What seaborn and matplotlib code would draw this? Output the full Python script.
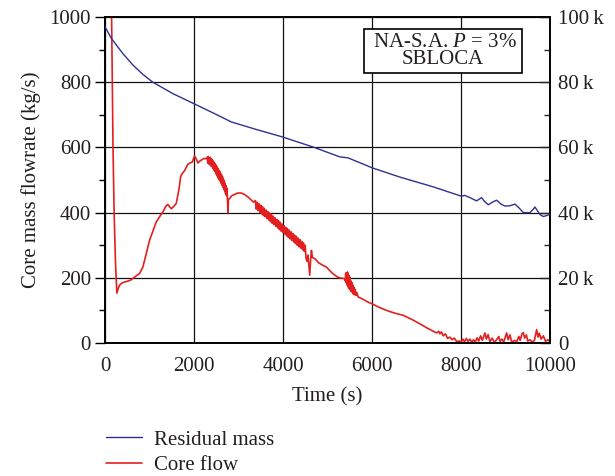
import matplotlib
matplotlib.use("Agg")
import matplotlib.pyplot as plt
from matplotlib.ticker import MultipleLocator, FixedLocator
import seaborn as sns
import pandas as pd

# Core flow (kg/s) versus time (s)
core_time = [100, 150, 180, 205, 235, 266, 300, 326, 380, 439, 520, 589, 680, 776, 851, 920,
             1001, 1080, 1151, 1230, 1301, 1370, 1413, 1450, 1489, 1540, 1601, 1660, 1700, 1736,
             1790, 1830, 1863, 1920, 1961, 2013, 2050, 2088, 2130, 2163, 2220, 2261,
             2300, 2310, 2320, 2330, 2340, 2350, 2360, 2370, 2380, 2390, 2400, 2410, 2420, 2430,
             2440, 2450, 2460, 2470, 2480, 2490, 2500, 2510, 2520, 2530, 2540, 2550, 2560, 2570,
             2580, 2590, 2600, 2610, 2620, 2630, 2640, 2650, 2660, 2670, 2680, 2690, 2700, 2710,
             2720, 2730, 2740, 2750, 2763, 2775, 2801, 2850, 2913, 2980, 3064, 3140, 3213, 3290,
             3340,
             3380, 3400, 3420, 3440, 3460, 3480, 3500, 3520, 3540, 3560, 3580, 3600, 3620, 3640,
             3660, 3680, 3700, 3720, 3740, 3760, 3780, 3800, 3820, 3840, 3860, 3880, 3900, 3920,
             3940, 3960, 3980, 4000, 4020, 4040, 4060, 4080, 4100, 4120, 4140, 4160, 4180, 4200,
             4220, 4240, 4260, 4280, 4300, 4320, 4340, 4360, 4380, 4400, 4420, 4440, 4460, 4480,
             4500, 4515, 4540, 4560, 4580, 4601, 4620, 4639, 4660, 4713, 4800, 4900, 4976, 5100,
             5238, 5388, 5400, 5410, 5420, 5430, 5440, 5450, 5460, 5470, 5480, 5490, 5500, 5510,
             5520, 5530, 5540, 5550, 5560, 5570, 5580, 5590, 5600, 5620, 5640, 5660, 5688, 5740,
             5800, 5900, 5988, 6150, 6326, 6500, 6700, 6900, 7075, 7250, 7450, 7500, 7525, 7560,
             7600, 7650, 7700, 7750, 7800, 7850, 7900, 7975, 8000, 8040, 8080, 8120, 8160, 8200,
             8240, 8280, 8320, 8360, 8400, 8440, 8480, 8538, 8570, 8610, 8650, 8700, 8750, 8800,
             8850, 8880, 8920, 8960, 9000, 9026, 9060, 9100, 9140, 9200, 9250, 9300, 9330, 9370,
             9400, 9430, 9470, 9500, 9550, 9600, 9650, 9700, 9730, 9760, 9800, 9850, 9900, 9950,
             10000]
core_flow = [1300, 980, 600, 400, 250, 153, 168, 177, 184, 187, 190, 194, 204, 213, 233, 270,
             315, 345, 371, 388, 402, 420, 425, 418, 412, 418, 428, 470, 510, 520,
             529, 540, 548, 553, 555, 574, 565, 552, 558, 561, 566, 565,
             570, 552, 572, 550, 568, 548, 570, 545, 566, 542, 564, 540, 560, 535,
             556, 530, 552, 526, 548, 520, 545, 515, 540, 510, 535, 505, 530, 500,
             526, 496, 520, 490, 515, 484, 510, 478, 503, 472, 497, 465, 490, 458,
             482, 452, 475, 448, 399, 440, 443, 452, 456, 460, 460, 455, 448, 438,
             432,
             437, 411, 432, 406, 427, 401, 423, 396, 418, 391, 413, 387, 408, 382,
             403, 377, 399, 372, 394, 367, 389, 363, 384, 358, 379, 353, 375, 348,
             370, 343, 365, 339, 360, 334, 355, 329, 351, 324, 346, 319, 341, 315,
             336, 310, 331, 305, 327, 300, 322, 295, 317, 291, 312, 286, 307, 281,
             300, 262, 250, 270, 240, 208, 255, 284, 262, 259, 246, 238, 233, 215,
             201, 197, 190, 215, 185, 212, 178, 218, 172, 210, 168, 205, 165, 200,
             160, 190, 158, 185, 155, 178, 150, 172, 148, 165, 146, 155, 141, 138,
             134, 126, 121, 110, 100, 92, 85, 72, 59, 45, 31, 36, 28, 34,
             22, 28, 14, 18, 10, 15, 5, 6, 2, 12, 4, 14, 5, 12,
             3, 10, 2, 16, 6, 22, 8, 31, 12, 26, 4, 15, 2, 10,
             20, 5, 12, 3, 20, 31, 10, 25, 2, 8, 4, 20, 8, 28,
             32, 15, 25, 6, 10, 3, 8, 41, 18, 30, 12, 22, 5, 10,
             4]

# Residual mass (kg) versus time (s)
mass_time = [0, 140, 400, 625, 850, 1075, 1525, 2000, 2425, 2840, 3400, 3990, 4680, 5275,
             5460, 6010, 6625, 7375, 8015, 8080, 8200, 8350, 8463, 8530, 8613, 8720, 8800,
             8900, 8988, 9100, 9213, 9300, 9400, 9550, 9620, 9663, 9775, 9850, 9950, 10000]
mass_value = [97000, 93500, 88800, 85300, 82400, 80000, 76500, 73400, 70600, 67800, 65500,
              63200, 60100, 57100, 56800, 53700, 50900, 47900, 45000, 45300, 44600, 43600,
              44600, 43400, 42400, 43300, 43800, 42600, 42000, 42100, 42600, 41500, 40000,
              40000, 41000, 41700, 39400, 38800, 39200, 39500]

x_ticks = [0, 2000, 4000, 6000, 8000, 10000]
left_ticks = [0, 200, 400, 600, 800, 1000]
right_ticks = [0, 20000, 40000, 60000, 80000, 100000]
right_labels = ["0", "20\u2009k", "40\u2009k", "60\u2009k", "80\u2009k", "100\u2009k"]

sns.set_style("white")
plt.rcParams["font.family"] = ["Liberation Serif", "DejaVu Serif"]
plt.rcParams["mathtext.fontset"] = "custom"
plt.rcParams["mathtext.it"] = "Liberation Serif:italic"
plt.rcParams["mathtext.rm"] = "Liberation Serif"
FS = 15
TXT = "#231f20"

fig = plt.figure(figsize=(6.15, 4.76), dpi=100)
ax = fig.add_axes([105 / 615, 1 - 343 / 476, 445 / 615, 326 / 476])
ax2 = ax.twinx()

flow_df = pd.DataFrame({"Time (s)": core_time, "flow": core_flow})
mass_df = pd.DataFrame({"Time (s)": mass_time, "mass": mass_value})

red = "#e2201f"
blue = "#2e3192"
sns.lineplot(data=flow_df, x="Time (s)", y="flow", ax=ax, color=red, lw=1.2,
             estimator=None, sort=False, zorder=4)
sns.lineplot(data=mass_df, x="Time (s)", y="mass", ax=ax2, color=blue, lw=1.0,
             estimator=None, sort=False, zorder=4)

ax.set_xlim(0, 10000)
ax.set_ylim(0, 1000)
ax2.set_ylim(0, 100000)

ax.xaxis.set_major_locator(FixedLocator(x_ticks))
ax.xaxis.set_minor_locator(MultipleLocator(1000))
ax.yaxis.set_major_locator(FixedLocator(left_ticks))
ax.yaxis.set_minor_locator(MultipleLocator(100))
ax2.yaxis.set_major_locator(FixedLocator(right_ticks))
ax2.yaxis.set_minor_locator(MultipleLocator(10000))
ax2.set_yticklabels(right_labels)

ax.grid(True, which="major", color="#111111", lw=0.9)
ax.set_axisbelow(True)
ax.tick_params(axis="both", which="major", direction="out", length=7, width=1,
               labelsize=FS, colors="black", labelcolor=TXT, pad=3)
ax.tick_params(axis="both", which="minor", direction="out", length=4, width=1, colors="black")
ax2.tick_params(axis="y", which="major", direction="in", length=7, width=1,
                labelsize=FS, labelcolor=TXT, pad=6)
ax2.tick_params(axis="y", which="minor", direction="in", length=4, width=1)

for a in (ax, ax2):
    for s in a.spines.values():
        s.set_visible(True)
        s.set_color("black")
        s.set_linewidth(1.2)

ax.set_xlabel("Time (s)", fontsize=FS, color=TXT, labelpad=8)
ax.set_ylabel("Core mass flowrate (kg/s)", fontsize=FS, color=TXT, labelpad=6)
ax2.set_ylabel("")

ax.text(7600, 895, " NA-S.A. $P$ = 3% \nSBLOCA", ha="center", va="center",
        fontsize=FS, color=TXT, linespacing=0.85, zorder=6,
        bbox=dict(boxstyle="square,pad=0.2", fc="white", ec="black", lw=1.2))

handles = [plt.Line2D([], [], color=blue, lw=1.0), plt.Line2D([], [], color=red, lw=1.2)]
fig.legend(handles, ["Residual mass", "Core flow"], loc="upper left",
           bbox_to_anchor=(106 / 615, 1 - 430 / 476), frameon=False, fontsize=FS,
           handlelength=1.75, handletextpad=0.55, labelspacing=0.3, borderpad=0,
           borderaxespad=0, labelcolor=TXT)

fig.savefig("out.png", dpi=100)
